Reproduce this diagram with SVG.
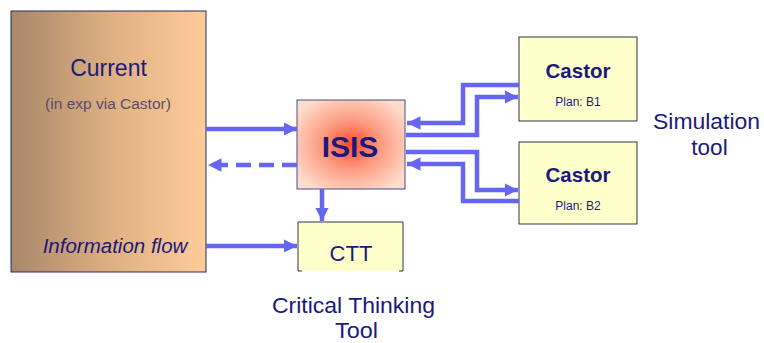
<svg xmlns="http://www.w3.org/2000/svg" width="764" height="343" viewBox="0 0 764 343">
  <defs>
    <linearGradient id="gCur" x1="0" y1="0" x2="1" y2="0">
      <stop offset="0" stop-color="#A8886A"/>
      <stop offset="0.5" stop-color="#DDAF82"/>
      <stop offset="1" stop-color="#FFCC99"/>
    </linearGradient>
    <radialGradient id="gIsis" cx="0.5" cy="0.5" r="0.6">
      <stop offset="0" stop-color="#FF4A2A"/>
      <stop offset="0.45" stop-color="#FC9A80"/>
      <stop offset="1" stop-color="#FFDCCC"/>
    </radialGradient>
    <marker id="ah" viewBox="0 0 10 10" refX="10" refY="5" markerWidth="3" markerHeight="3" orient="auto" markerUnits="strokeWidth">
      <path d="M0,0 L10,5 L0,10 z" fill="#6666F0"/>
    </marker>
    <style>
      .t { font-family: "Liberation Sans", Arial, sans-serif; fill: #1A1A7C; text-anchor: middle; }
      .c { fill: none; stroke: #6666F0; stroke-width: 4.5; }
      .y { fill: #FFFFCC; stroke: #333344; stroke-width: 1; }
    </style>
  </defs>

  <g id="current">
    <rect x="11" y="11" width="195" height="261" fill="url(#gCur)" stroke="#2A2A60" stroke-width="1"/>
    <text class="t" x="108.5" y="76" font-size="23">Current</text>
    <text class="t" x="108" y="109" font-size="15.5" style="fill:#5A4A6A">(in exp via Castor)</text>
    <text class="t" x="115" y="253" font-size="20.5" font-style="italic">Information flow</text>
  </g>

  <g id="isis">
    <rect x="297" y="100" width="108" height="89" fill="url(#gIsis)" stroke="#4A4A90" stroke-width="1"/>
    <text class="t" x="350" y="157" font-size="30" font-weight="bold">ISIS</text>
  </g>

  <g id="ctt">
    <rect x="298" y="222" width="105" height="49" fill="#FFFFCC" stroke="none"/>
    <path d="M298,271 L298,222 L403,222 L403,271 M298,271 L302,271 M399,271 L403,271" fill="none" stroke="#333344" stroke-width="1"/>
    <text class="t" x="351" y="261" font-size="22">CTT</text>
  </g>

  <g id="castor1">
    <rect class="y" x="519" y="37" width="118" height="84"/>
    <text class="t" x="578" y="78" font-size="20.5" font-weight="bold">Castor</text>
    <text class="t" x="578" y="106" font-size="12">Plan: B1</text>
  </g>

  <g id="castor2">
    <rect class="y" x="519" y="142" width="118" height="82"/>
    <text class="t" x="578" y="182" font-size="20.5" font-weight="bold">Castor</text>
    <text class="t" x="578" y="210" font-size="12">Plan: B2</text>
  </g>

  <g id="sim-label">
    <text class="t" x="706.5" y="129" font-size="22.5" textLength="107" lengthAdjust="spacingAndGlyphs">Simulation</text>
    <text class="t" x="709.5" y="155" font-size="22.5">tool</text>
  </g>

  <g id="ctt-label">
    <text class="t" x="353.5" y="313" font-size="21.5" textLength="163" lengthAdjust="spacingAndGlyphs">Critical Thinking</text>
    <text class="t" x="356.5" y="338" font-size="21.5" textLength="43" lengthAdjust="spacingAndGlyphs">Tool</text>
  </g>

  <g id="connectors">
    <path class="c" d="M206,129 L297,129" marker-end="url(#ah)"/>
    <path class="c" d="M297,165 L208,165" stroke-dasharray="15,8" marker-end="url(#ah)"/>
    <path class="c" d="M322,189 L322,221" marker-end="url(#ah)"/>
    <path class="c" d="M206,246 L297,246" marker-end="url(#ah)"/>
    <path class="c" d="M519,85 L463,85 L463,123 L407,123" marker-end="url(#ah)"/>
    <path class="c" d="M406,135 L477,135 L477,97 L518,97" marker-end="url(#ah)"/>
    <path class="c" d="M406,152 L477,152 L477,190 L518,190" marker-end="url(#ah)"/>
    <path class="c" d="M519,201 L463,201 L463,164 L407,164" marker-end="url(#ah)"/>
  </g>
</svg>
